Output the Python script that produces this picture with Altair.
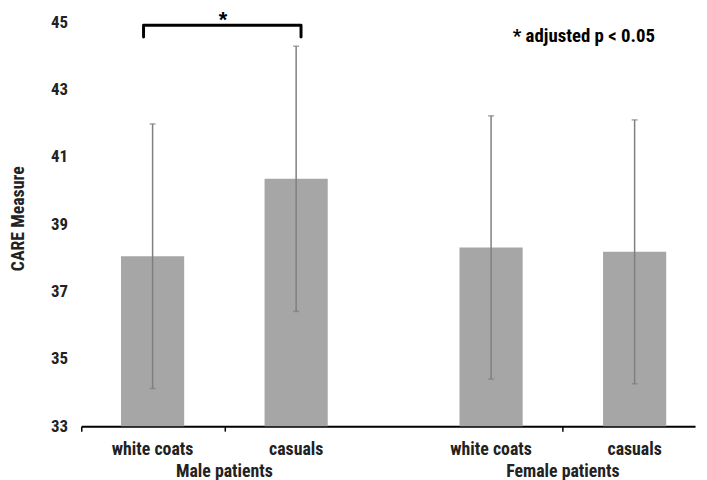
import altair as alt
import pandas as pd

# ---- data ----
groups = ["Male patients", "Male patients", "Female patients", "Female patients"]
categories = ["white coats", "casuals", "white coats", "casuals"]
group_index = [0, 0, 1, 1]
cat_index = [0, 1, 0, 1]
means = [38.05, 40.35, 38.31, 38.18]
sds = [3.93, 3.94, 3.91, 3.92]
y_ticks = [33, 35, 37, 39, 41, 43, 45]
note_text = "*  adjusted p < 0.05"
star_text = "*"

# layout constants (in category-band units)
GROUP_GAP = 2.358
BAND_PX = 145
PLOT_W = 620
PLOT_H = 408
HALF_BAR = 0.22

pos = [g * GROUP_GAP + c + 0.497 for g, c in zip(group_index, cat_index)]
df = pd.DataFrame({
    "group": groups,
    "category": categories,
    "pos": pos,
    "mean": means,
    "lo": [m - s for m, s in zip(means, sds)],
    "hi": [m + s for m, s in zip(means, sds)],
})
df["x0"] = df["pos"] - HALF_BAR
df["x1"] = df["pos"] + HALF_BAR

grp = pd.DataFrame({
    "group": ["Male patients", "Female patients"],
    "center": [pos[0] / 2 + pos[1] / 2, pos[2] / 2 + pos[3] / 2],
})

# significance bracket between the two male bars
top = max(df["hi"][:2]) + 0.62
bracket = pd.DataFrame({
    "bx": [pos[0] - 0.063, pos[0] - 0.063, pos[1] + 0.034, pos[1] + 0.034],
    "by": [top - 0.35, top, top, top - 0.35],
    "ord": [0, 1, 2, 3],
})
star = pd.DataFrame({"sx": [(pos[0] + pos[1]) / 2 - 0.01], "sy": [top], "t": [star_text]})
note = pd.DataFrame({"nx": [3.006], "ny": [44.59], "t": [note_text]})

FONT = "Liberation Sans Narrow, Roboto Condensed, Liberation Sans"
xdom = [0, PLOT_W / BAND_PX]
xs = alt.Scale(domain=xdom, nice=False, zero=False)
ys = alt.Scale(domain=[33, 45], nice=False, zero=False)

base = alt.Chart(df)

bars = base.mark_bar(color="#a6a6a6").encode(
    x=alt.X("x0:Q", scale=xs,
            axis=alt.Axis(values=[0, 1, grp["center"][1]], labels=False, ticks=True,
                          tickSize=5, tickColor="#000000", tickWidth=1.5,
                          domain=True, domainColor="#000000", domainWidth=2,
                          grid=False, title=None)),
    x2="x1:Q",
    y=alt.Y("mean:Q", scale=ys,
            axis=alt.Axis(values=y_ticks, grid=False, domain=False, ticks=False,
                          labelPadding=14, labelFont=FONT, labelFontSize=17,
                          labelFontWeight="bold", labelColor="#222222",
                          title="CARE Measure", titleFont=FONT, titleFontSize=18,
                          titleFontWeight="bold", titleColor="#222222",
                          titleX=-58, titleY=PLOT_H / 2 - 6, titleAngle=-90,
                          titleAlign="center", titleBaseline="alphabetic")),
    y2=alt.datum(33),
)

err = base.mark_rule(color="#7f7f7f", strokeWidth=1.5).encode(
    x="pos:Q", y="lo:Q", y2="hi:Q")
cap_hi = base.mark_tick(color="#7f7f7f", thickness=1.5, size=6, orient="horizontal").encode(
    x="pos:Q", y="hi:Q")
cap_lo = base.mark_tick(color="#7f7f7f", thickness=1.5, size=6, orient="horizontal").encode(
    x="pos:Q", y="lo:Q")

cat_labels = base.mark_text(font=FONT, fontSize=18, fontWeight="bold", color="#222222",
                            baseline="middle", dy=24).encode(
    x="pos:Q", y=alt.datum(33), text="category:N")

grp_labels = alt.Chart(grp).mark_text(font=FONT, fontSize=18, fontWeight="bold",
                                      color="#222222", baseline="middle", dy=46).encode(
    x="center:Q", y=alt.datum(33), text="group:N")

brk = alt.Chart(bracket).mark_line(color="#000000", strokeWidth=3, strokeJoin="round",
                                   strokeCap="round").encode(
    x="bx:Q", y="by:Q", order="ord:Q")

star_mark = alt.Chart(star).mark_text(font="Liberation Sans", fontSize=22, fontWeight="bold",
                                      color="#000000", baseline="middle", dy=-5).encode(
    x="sx:Q", y="sy:Q", text="t:N")

note_mark = alt.Chart(note).mark_text(font=FONT, fontSize=19, fontWeight="bold",
                                      color="#000000", align="left", baseline="middle").encode(
    x="nx:Q", y="ny:Q", text="t:N")

chart = alt.layer(bars, err, cap_hi, cap_lo, cat_labels, grp_labels, brk, star_mark,
                  note_mark).properties(
    width=PLOT_W, height=PLOT_H,
    autosize=alt.AutoSizeParams(type="none"),
    padding={"left": 74, "top": 12, "right": 4, "bottom": 60},
    background="#ffffff",
).configure_view(stroke=None)

chart.save("out.html", embed_options={"renderer": "svg", "actions": False})
